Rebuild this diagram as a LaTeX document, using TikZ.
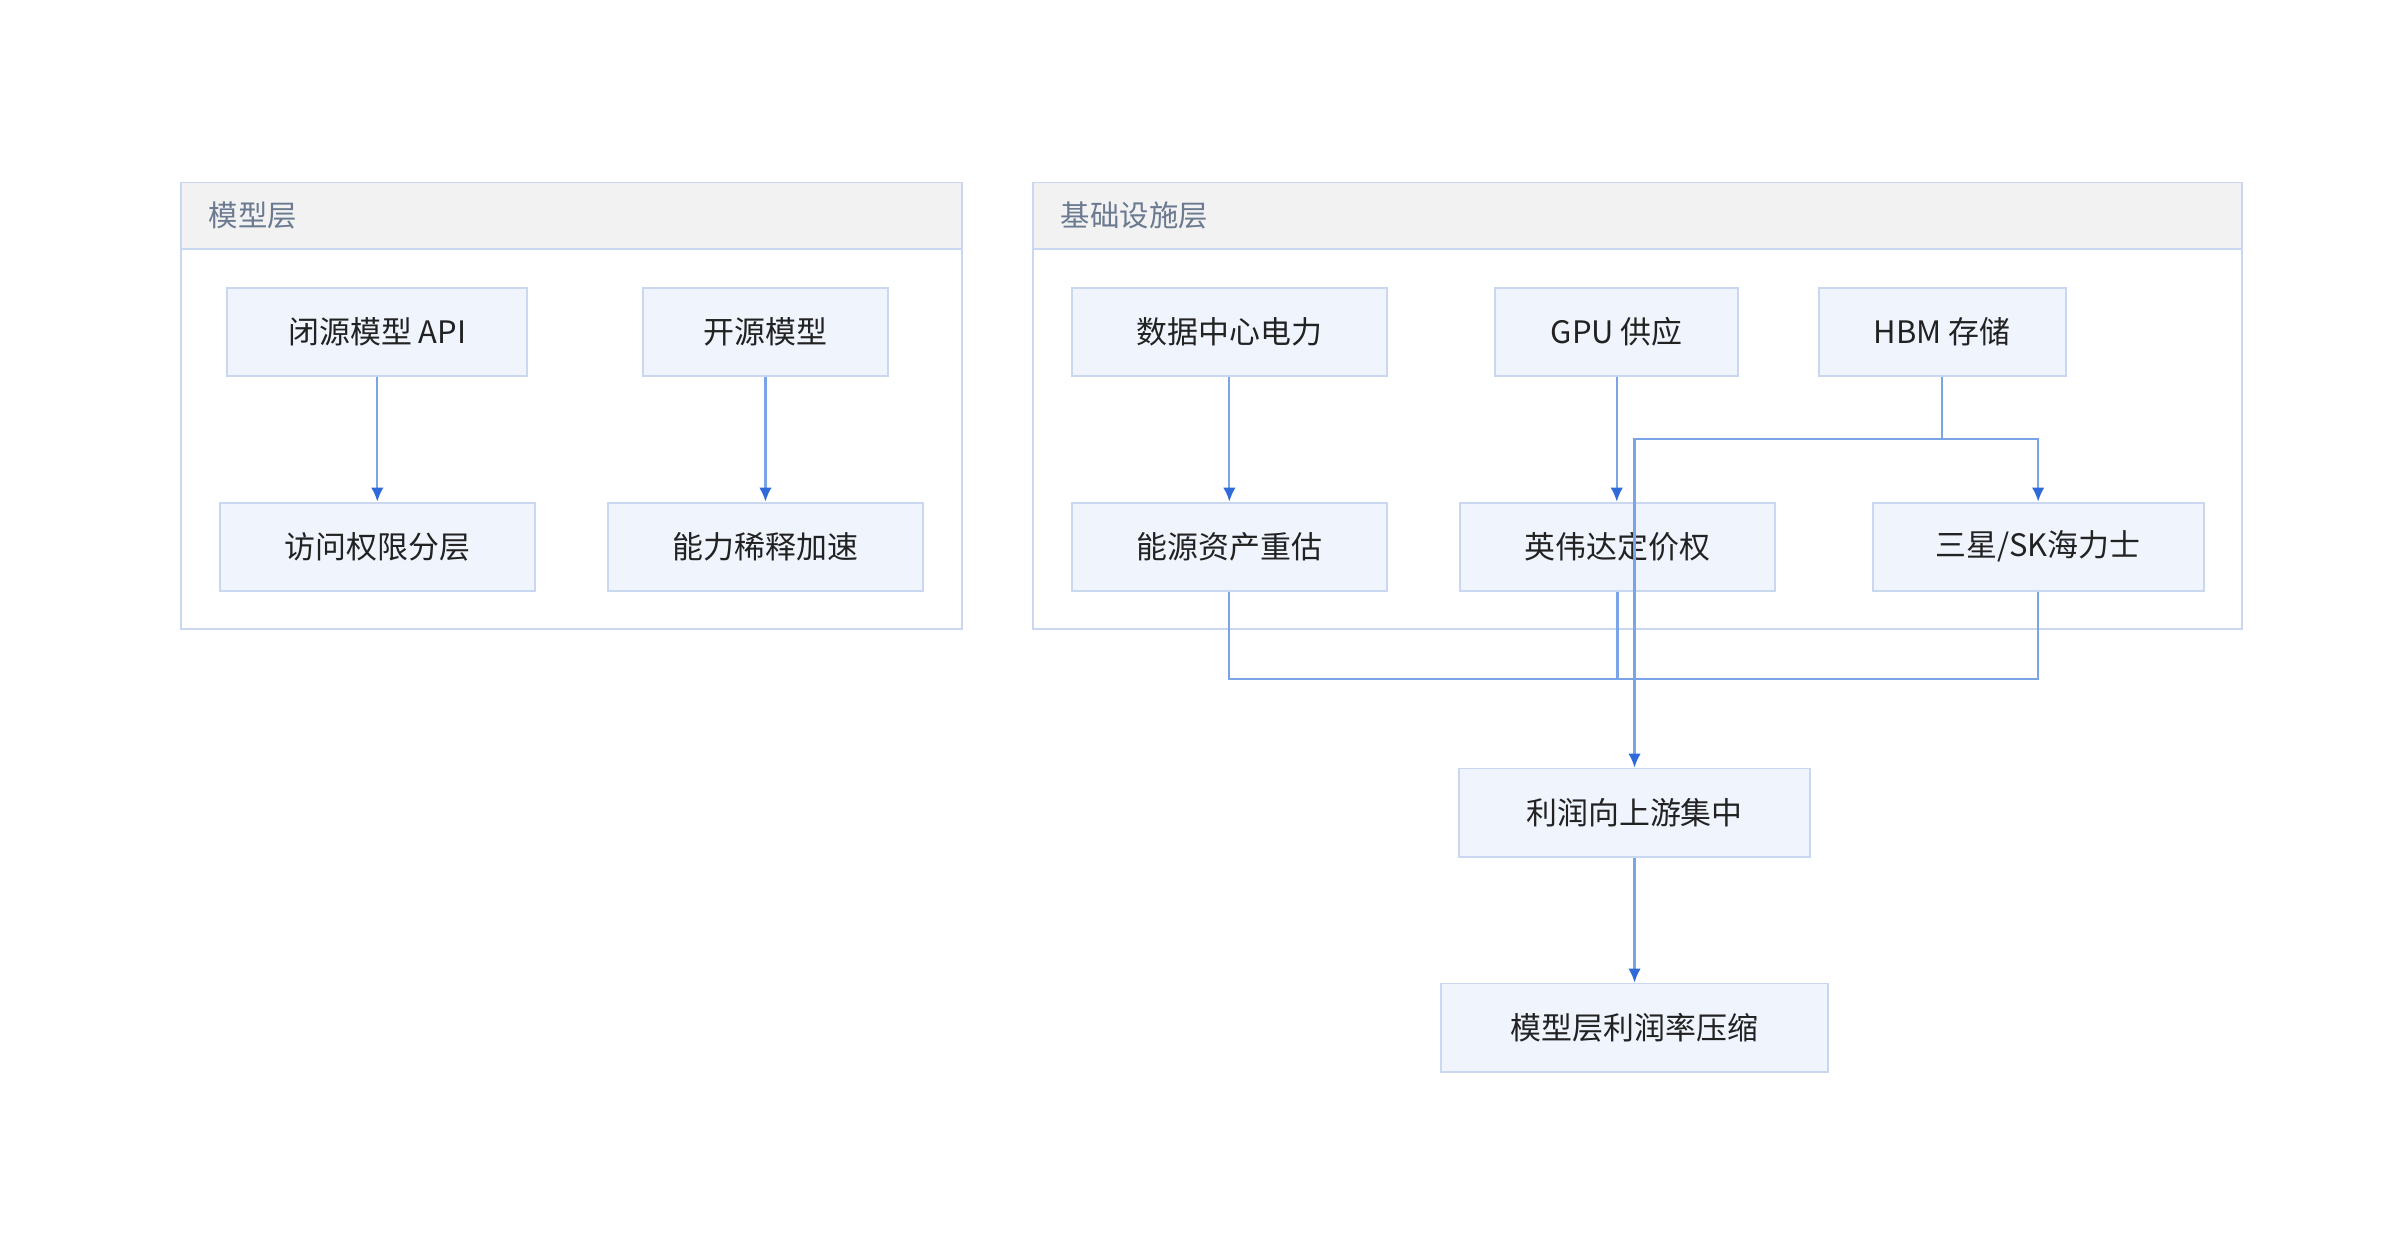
\documentclass[tikz,border=0pt]{standalone}
\usepackage{fontspec}
\setmainfont{Noto Sans CJK SC}
\usetikzlibrary{arrows.meta,calc}
\definecolor{bfill}{HTML}{EFF4FD}
\definecolor{bdraw}{HTML}{C9D8F0}
\definecolor{line}{HTML}{7BA3E8}
\definecolor{tip}{HTML}{2F6BD8}
\definecolor{hfill}{HTML}{F2F2F2}
\definecolor{htext}{HTML}{6B7A90}
\definecolor{ntext}{HTML}{222222}
\begin{document}
\begin{tikzpicture}[x=0.5pt,y=-0.5pt,
 box/.style={draw=bdraw,fill=bfill,line width=0.6pt,minimum height=28.5pt,inner sep=0pt,font=\fontsize{10}{12}\selectfont,text=ntext},
 cl/.style={draw=bdraw,line width=0.6pt},
 hd/.style={draw=bdraw,fill=hfill,line width=0.6pt},
 ht/.style={anchor=west,text=htext,font=\fontsize{9.5}{11}\selectfont},
 ar/.style={draw=line,line width=0.7pt,-{Latex[length=4.5pt,width=4pt,color=tip,fill=tip]}},
 ln/.style={draw=line,line width=0.7pt}]
\useasboundingbox (0,0) rectangle (1552,803);
% clusters
\draw[cl] (117,118) rectangle (622,407);
\draw[hd] (117,118) rectangle (622,161);
\node[ht] (t1) at (128,139.5) {模型层};
\draw[cl] (668,118) rectangle (1450,407);
\draw[hd] (668,118) rectangle (1450,161);
\node[ht] (t2) at (679,139.5) {基础设施层};
% nodes
\node[box,minimum width=97pt] (a) at (244,214.5) {闭源模型 API};
\node[box,minimum width=79pt] (b) at (495,214.5) {开源模型};
\node[box,minimum width=102pt] (c) at (244,353.5) {访问权限分层};
\node[box,minimum width=102pt] (d) at (495,353.5) {能力稀释加速};
\node[box,minimum width=102pt] (e) at (795,214.5) {数据中心电力};
\node[box,minimum width=78.5pt] (f) at (1045.5,214.5) {GPU 供应};
\node[box,minimum width=80pt] (g) at (1256,214.5) {HBM 存储};
\node[box,minimum width=102pt] (h) at (795,353.5) {能源资产重估};
\node[box,minimum width=102pt] (i) at (1046,353.5) {英伟达定价权};
\node[box,minimum width=107pt] (j) at (1318,353.5) {三星/SK海力士};
\node[box,minimum width=113.5pt] (k) at (1057,525.5) {利润向上游集中};
\node[box,minimum width=125pt] (l) at (1057,664.5) {模型层利润率压缩};
\coordinate (j1) at (1057,284);
\coordinate (j2) at (1057,439);
% edges
\draw[ar] (a) -- (c);
\draw[ar] (b) -- (d);
\draw[ar] (e) -- (h);
\draw[ar] (f.south) -- (f.south|-i.north);
\draw[ar] (g.south) -- (g.south|-j1) -- (j.north|-j1) -- (j.north);
\draw[ar] (g.south) -- (g.south|-j1) -- (j1) -- (k.north);
\draw[ln] (h.south) -- (h.south|-j2) -- (j2);
\draw[ln] (i.south) -- (i.south|-j2) -- (j2);
\draw[ln] (j.south) -- (j.south|-j2) -- (j2);
\draw[ar] (k) -- (l);
\end{tikzpicture}
\end{document}
